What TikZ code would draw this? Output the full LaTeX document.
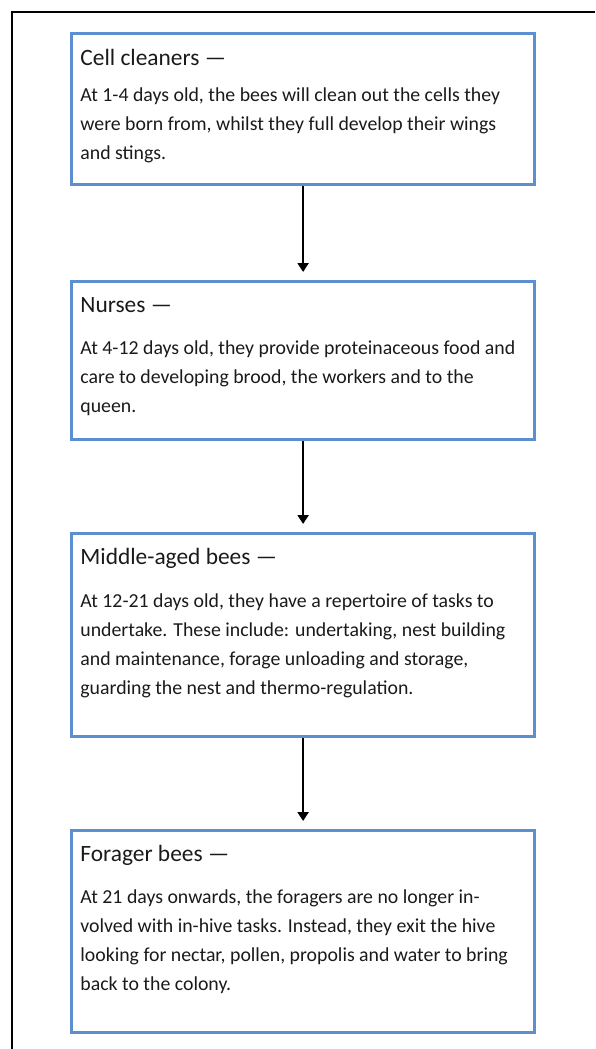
\documentclass[tikz,border=0pt]{standalone}
\usepackage{fontspec}
\setmainfont{Carlito}
\usetikzlibrary{arrows.meta,positioning}
\definecolor{boxblue}{HTML}{5B8FD0}
\definecolor{inkgrey}{HTML}{1A1A1A}
\tikzset{
  stage/.style={draw=boxblue, line width=1.6pt, minimum width=231.5pt, anchor=north west, inner sep=0pt},
  head/.style={anchor=west, inner sep=0pt, text=inkgrey, font=\fontsize{11.7}{13}\selectfont},
  body/.style={anchor=north west, inner sep=0pt, align=left, text=inkgrey, font=\fontsize{9.9}{14.6}\selectfont},
  flow/.style={line width=1.2pt, -{Triangle[width=5.5pt,length=4.5pt]}, shorten >=4pt}
}
\begin{document}
\begin{tikzpicture}[x=0.5pt,y=-0.5pt]
  \useasboundingbox (0,0) rectangle (595,1049);
  % Drawing page frame (top and left only)
  \draw [line width=1pt] (12,1049) -- (12,12) -- (595,12);%

  % Box for cell cleaners
  \draw (70,32) node [stage, minimum height=75.5pt] (cleaners) {};%
  \draw (80,57) node [head] (cleanershead) {Cell cleaners —};%
  \draw (80,87) node [body] (cleanersbody) {At 1-4 days old, the bees will clean out the cells they\\were born from, whilst they full develop their wings\\and stings.};%

  % Box for nurses
  \draw (70,280) node [stage, minimum height=79pt] (nurses) {};%
  \draw (80,305) node [head] (nurseshead) {Nurses —};%
  \draw (80,340) node [body] (nursesbody) {At 4-12 days old, they provide proteinaceous food and\\care to developing brood, the workers and to the\\queen.};%

  % Box for middle-aged bees
  \draw (70,532) node [stage, minimum height=101.5pt] (middle) {};%
  \draw (80,558) node [head] (middlehead) {Middle-aged bees —};%
  \draw (80,593) node [body] (middlebody) {At 12-21 days old, they have a repertoire of tasks to\\undertake. These include: undertaking, nest building\\and maintenance, forage unloading and storage,\\guarding the nest and thermo-regulation.};%

  % Box for forager bees
  \draw (70,829) node [stage, minimum height=101pt] (forager) {};%
  \draw (80,855) node [head] (foragerhead) {Forager bees —};%
  \draw (80,889) node [body] (foragerbody) {At 21 days onwards, the foragers are no longer in-\\volved with in-hive tasks. Instead, they exit the hive\\looking for nectar, pollen, propolis and water to bring\\back to the colony.};%

  % Drawing arrows between stages
  \draw [flow] (cleaners.south) -- (nurses.north);%
  \draw [flow] (nurses.south) -- (middle.north);%
  \draw [flow] (middle.south) -- (forager.north);%
\end{tikzpicture}
\end{document}
